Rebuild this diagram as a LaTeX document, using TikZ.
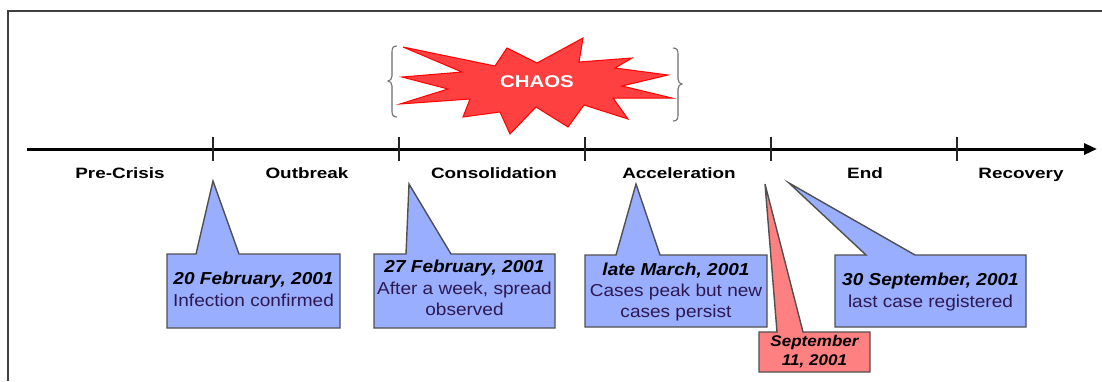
\documentclass[tikz,border=0pt]{standalone}
\usepackage{fontspec}
\setmainfont{Liberation Sans}
\newfontfamily\boxfont[FakeStretch=1.1]{Liberation Sans}
\newfontfamily\labfont[FakeStretch=1.26]{Liberation Sans}
\newfontfamily\chaosfont[FakeStretch=1.2]{Liberation Sans}
\usetikzlibrary{arrows.meta}
\definecolor{boxblue}{RGB}{153,174,255}
\definecolor{boxred}{RGB}{255,128,128}
\definecolor{starred}{RGB}{255,64,64}
\definecolor{descol}{RGB}{45,25,80}
\definecolor{edgegray}{RGB}{80,80,80}
\definecolor{bracegray}{RGB}{110,110,110}
\begin{document}
\begin{tikzpicture}[x=1pt,y=-1pt,
  phase/.style={anchor=base, inner sep=0pt, font=\labfont\bfseries\fontsize{15}{18}\selectfont},
  datetxt/.style={anchor=base, inner sep=0pt, font=\boxfont\bfseries\itshape\fontsize{17.3}{22}\selectfont},
  desctxt/.style={anchor=base, inner sep=0pt, text=descol, font=\boxfont\fontsize{17.3}{22}\selectfont},
  redtxt/.style={anchor=base, inner sep=0pt, font=\boxfont\bfseries\itshape\fontsize{15.5}{19}\selectfont},
  callout/.style={draw=edgegray, line width=1.4pt, line join=miter},
  tickline/.style={line width=1.1pt, black!85},
  bracestyle/.style={draw=bracegray, line width=1.1pt},
]
\useasboundingbox (0,0) rectangle (1102,381);
\fill[white] (0,0) rectangle (1102,381);

% frame
\draw[black!75, line width=1.8pt] (8,381) -- (8,11) -- (1102,11);

% chaos star
\draw[fill=starred, draw=red, line width=1pt, line join=miter]
  (403,47) -- (495,66) -- (507,48) -- (537,63) -- (583,38) -- (579,62)
  -- (632,58) -- (615,68) -- (668,75) -- (622,86) -- (672,98) -- (613,98)
  -- (628,119) -- (584,105) -- (568,127) -- (536,107) -- (510,134)
  -- (500,112) -- (463,117) -- (470,99) -- (400,104) -- (448,89)
  -- (402,77) -- (462,72) -- cycle;
\node[anchor=base, inner sep=0pt, text=white, font=\chaosfont\bfseries\fontsize{17}{20}\selectfont] (chaos) at (537,87) {CHAOS};

% braces
\draw[bracestyle] (397,46) .. controls (393,46) and (392,48) .. (392,52) -- (392,76)
  .. controls (392,79) and (390,81) .. (388,81) .. controls (390,81) and (392,83) .. (392,86)
  -- (392,111) .. controls (392,115) and (393,117) .. (397,117);
\draw[bracestyle] (673,48) .. controls (677,48) and (678,50) .. (678,54) -- (678,79)
  .. controls (678,82) and (680,84) .. (682,84) .. controls (680,84) and (678,86) .. (678,89)
  -- (678,115) .. controls (678,119) and (677,121) .. (673,121);

% axis
\coordinate (axstart) at (27,149);
\coordinate (axend) at (1097,149);
\draw[line width=3pt, -{Triangle[length=13pt,width=11pt]}] (axstart) -- (axend);
\foreach \x in {213,399,585,771,957} \draw[tickline] (\x,137) -- (\x,161);

% phase labels
\node[phase] (pre) at (120,178) {Pre-Crisis};
\node[phase] (out) at (307,178) {Outbreak};
\node[phase] (con) at (494,178) {Consolidation};
\node[phase] (acc) at (679,178) {Acceleration};
\node[phase] (end) at (865,178) {End};
\node[phase] (rec) at (1021,178) {Recovery};

% callouts
\draw[callout, fill=boxblue] (167,254) -- (196,254) -- (213,181) -- (239,254) -- (340,254) -- (340,328) -- (167,328) -- cycle;
\node[datetxt] (d1) at (253.5,284) {20 February, 2001};
\node[desctxt] (t1) at (253.5,306) {Infection confirmed};

\draw[callout, fill=boxblue] (374,254) -- (406,254) -- (409,184) -- (451,254) -- (555,254) -- (555,328) -- (374,328) -- cycle;
\node[datetxt] (d2) at (464.5,272) {27 February, 2001};
\node[desctxt] (t2a) at (464.5,294) {After a week, spread};
\node[desctxt] (t2b) at (464.5,315) {observed};

\draw[callout, fill=boxblue] (585,255) -- (616,255) -- (636,184) -- (660,255) -- (767,255) -- (767,327) -- (585,327) -- cycle;
\node[datetxt] (d3) at (676,275) {late March, 2001};
\node[desctxt] (t3a) at (676,296) {Cases peak but new};
\node[desctxt] (t3b) at (676,317) {cases persist};

\draw[callout, fill=boxred] (759,332) -- (777,332) -- (765,184) -- (803,332) -- (870,332) -- (870,372) -- (759,372) -- cycle;
\node[redtxt] (d4a) at (814.5,346.5) {September};
\node[redtxt] (d4b) at (814.5,365) {11, 2001};

\draw[callout, fill=boxblue] (835,255) -- (866,255) -- (789,183) -- (915,255) -- (1026,255) -- (1026,327) -- (835,327) -- cycle;
\node[datetxt] (d5) at (930.5,285) {30 September, 2001};
\node[desctxt] (t5) at (930.5,307) {last case registered};
\end{tikzpicture}
\end{document}
